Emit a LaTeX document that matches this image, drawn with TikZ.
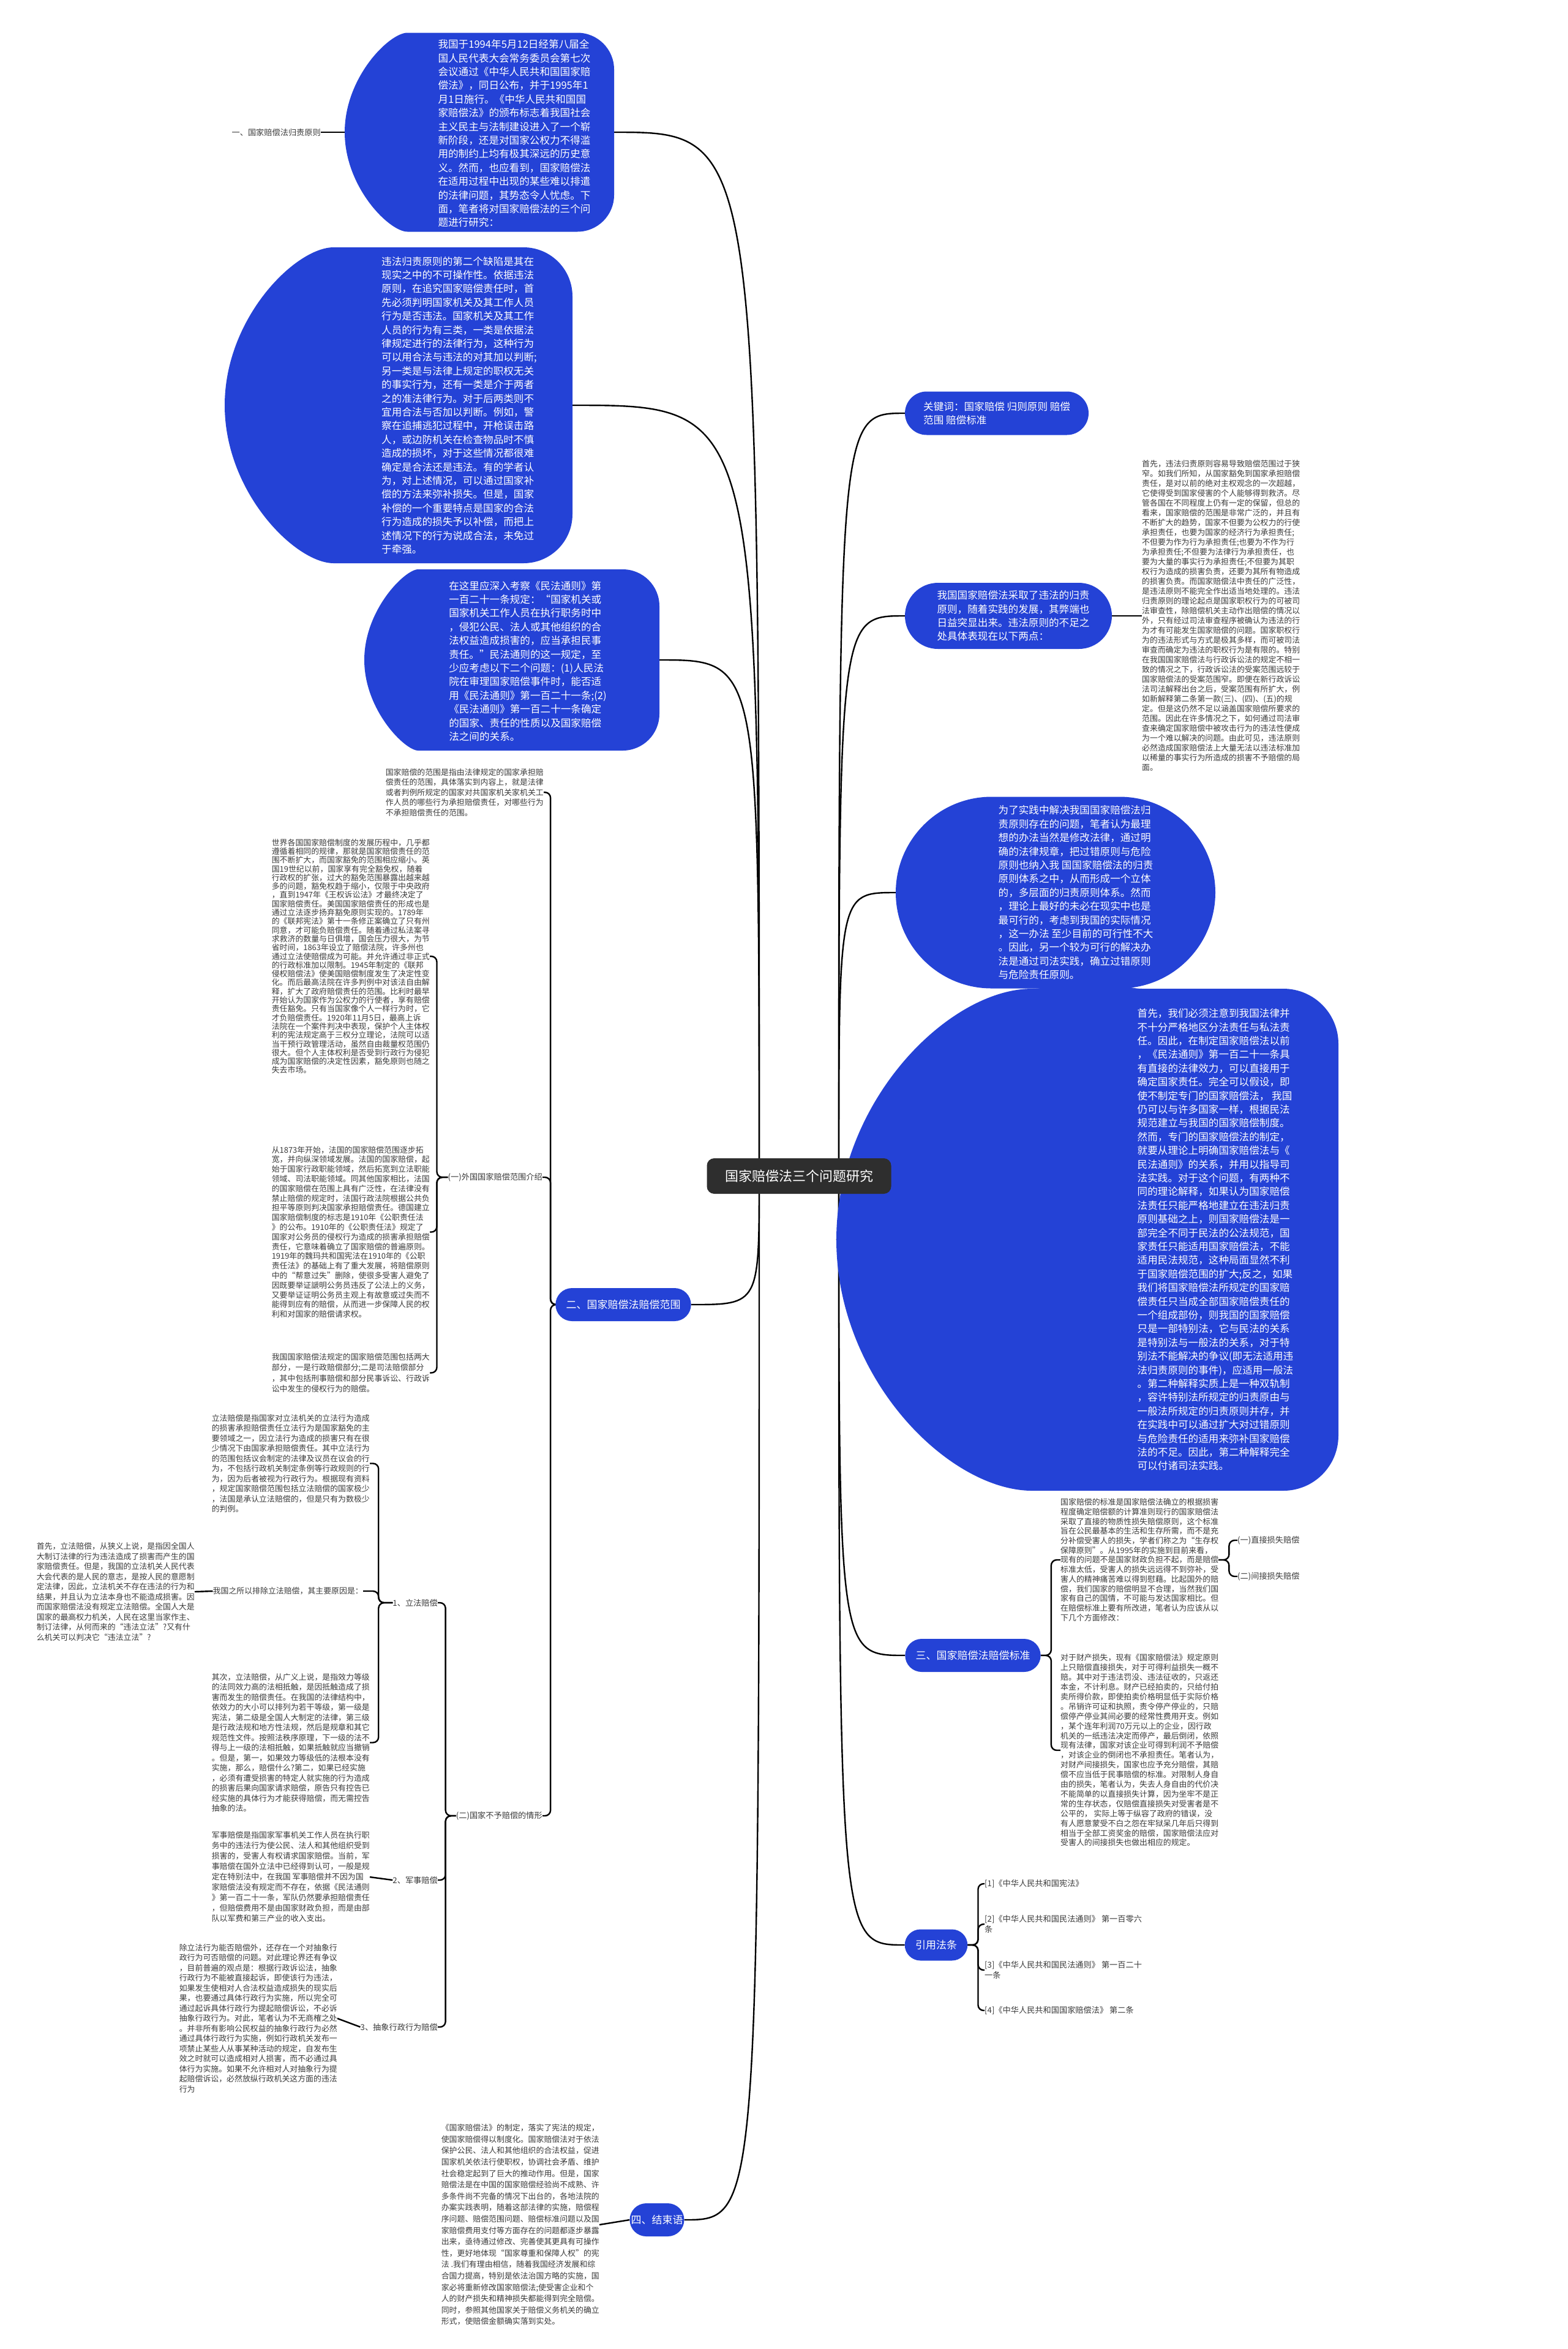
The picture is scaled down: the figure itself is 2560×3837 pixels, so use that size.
\documentclass[tikz,border=0pt]{standalone}
\usepackage{fontspec}
\setmainfont{Noto Sans CJK SC}
\usetikzlibrary{shapes.misc, backgrounds, calc}
\definecolor{cblue}{HTML}{2442D6}
\definecolor{croot}{HTML}{2E2E2E}
\definecolor{cgrey}{HTML}{3A3A3A}
\tikzset{
  every picture/.style={x=1pt, y=-1pt},
  blob/.style={rounded rectangle, fill=cblue, inner sep=0pt},
  flatblob/.style={blob, rounded rectangle east arc=none, rounded corners=#1},
  flatblob/.default=60pt,
  blobtext/.style={text=white, align=left, inner sep=0pt, font=\fontsize{16.6}{22.4}\selectfont},
  topic/.style={rounded rectangle, fill=cblue, text=white, inner xsep=16pt, minimum height=54pt, font=\fontsize{17}{20}\selectfont},
  root/.style={fill=croot, text=white, rounded corners=12pt, minimum width=301pt, minimum height=58pt, font=\fontsize{22}{26}\selectfont},
  note/.style={text=cgrey, align=left, inner sep=0pt, font=\fontsize{12.9}{16.5}\selectfont},
  leaf/.style={text=cgrey, align=left, inner sep=0pt, font=\fontsize{13.2}{17}\selectfont},
  conn/.style={draw=black, line width=2.4pt},
  bracket/.style={conn, rounded corners=9pt},
}
\begin{document}
\begin{tikzpicture}
\useasboundingbox (0,0) rectangle (2560,3837);

% blob shapes
\node[flatblob, minimum width=440pt, minimum height=325pt] (intro) at (783,216) {};
\node[flatblob=80pt, minimum width=568pt, minimum height=516pt] (flaw) at (651,662) {};
\node[flatblob, minimum width=482pt, minimum height=296pt] (civil) at (836,1078) {};
\node[blob, minimum width=300pt, minimum height=71pt] (kw) at (1628,675) {};
\node[blob, minimum width=338pt, minimum height=108pt] (vio) at (1647,1006) {};
\node[flatblob=90pt, minimum width=715pt, minimum height=820pt] (big) at (1776,2025) {};
\node[blob, minimum width=522pt, minimum height=313pt] (fix) at (1724,1458) {};

\node[root] (root) at (1305,1921) {国家赔偿法三个问题研究};
\coordinate (rootl) at (1240,1921);
\coordinate (rootr) at (1370,1921);

% left side, first part
\node[blobtext] (introtxt) at (840,218) {我国于1994年5月12日经第八届全\\国人民代表大会常务委员会第七次\\会议通过《中华人民共和国国家赔\\偿法》，同日公布，并于1995年1\\月1日施行。《中华人民共和国国\\家赔偿法》的颁布标志着我国社会\\主义民主与法制建设进入了一个崭\\新阶段，还是对国家公权力不得滥\\用的制约上均有极其深远的历史意\\义。然而，也应看到，国家赔偿法\\在适用过程中出现的某些难以排遣\\的法律问题，其势态令人忧虑。下\\面，笔者将对国家赔偿法的三个问\\题进行研究：};
\node[leaf, anchor=east] (rule) at (524,216) {一、国家赔偿法归责原则};

\node[blobtext] (flawtxt) at (750,662) {违法归责原则的第二个缺陷是其在\\现实之中的不可操作性。依据违法\\原则，在追究国家赔偿责任时，首\\先必须判明国家机关及其工作人员\\行为是否违法。国家机关及其工作\\人员的行为有三类，一类是依据法\\律规定进行的法律行为，这种行为\\可以用合法与违法的对其加以判断;\\另一类是与法律上规定的职权无关\\的事实行为，还有一类是介于两者\\之的准法律行为。对于后两类则不\\宜用合法与否加以判断。例如，警\\察在追捕逃犯过程中，开枪误击路\\人，或边防机关在检查物品时不慎\\造成的损坏，对于这些情况都很难\\确定是合法还是违法。有的学者认\\为，对上述情况，可以通过国家补\\偿的方法来弥补损失。但是，国家\\补偿的一个重要特点是国家的合法\\行为造成的损失予以补偿，而把上\\述情况下的行为说成合法，未免过\\于牵强。};

\node[blobtext] (civiltxt) at (862,1080) {在这里应深入考察《民法通则》第\\一百二十一条规定：“国家机关或\\国家机关工作人员在执行职务时中\\，侵犯公民、法人或其他组织的合\\法权益造成损害的，应当承担民事\\责任。”民法通则的这一规定，至\\少应考虑以下二个问题：(1)人民法\\院在审理国家赔偿事件时，能否适\\用《民法通则》第一百二十一条;(2)\\《民法通则》第一百二十一条确定\\的国家、责任的性质以及国家赔偿\\法之间的关系。};

% right side, first part
\node[blobtext, anchor=west] (kwtxt) at (1508,675) {关键词：国家赔偿 归则原则 赔偿\\范围 赔偿标准};

\node[blobtext] (viotxt) at (1655,1006) {我国国家赔偿法采取了违法的归责\\原则，随着实践的发展，其弊端也\\日益突显出来。违法原则的不足之\\处具体表现在以下两点：};
\node[note, anchor=west, font=\fontsize{12.9}{16}\selectfont] (violong) at (1865,1006) {首先，违法归责原则容易导致赔偿范围过于狭\\窄。如我们所知，从国家豁免到国家承担赔偿\\责任，是对以前的绝对主权观念的一次超越，\\它使得受到国家侵害的个人能够得到救济。尽\\管各国在不同程度上仍有一定的保留，但总的\\看来，国家赔偿的范围是非常广泛的，并且有\\不断扩大的趋势，国家不但要为公权力的行使\\承担责任，也要为国家的经济行为承担责任;\\不但要为作为行为承担责任;也要为不作为行\\为承担责任;不但要为法律行为承担责任，也\\要为大量的事实行为承担责任;不但要为其职\\权行为造成的损害负责，还要为其所有物造成\\的损害负责。而国家赔偿法中责任的广泛性，\\是违法原则不能完全作出适当地处理的。违法\\归责原则的理论起点是国家职权行为的可被司\\法审查性，除赔偿机关主动作出赔偿的情况以\\外，只有经过司法审查程序被确认为违法的行\\为才有可能发生国家赔偿的问题。国家职权行\\为的违法形式与方式是极其多样，而可被司法\\审查而确定为违法的职权行为是有限的。特别\\在我国国家赔偿法与行政诉讼法的规定不相一\\致的情况之下，行政诉讼法的受案范围远较于\\国家赔偿法的受案范围窄。即便在新行政诉讼\\法司法解释出台之后，受案范围有所扩大，例\\如新解释第二条第一款(三)、(四)、(五)的规\\定。但是这仍然不足以涵盖国家赔偿所要求的\\范围。因此在许多情况之下，如何通过司法审\\查来确定国家赔偿中被攻击行为的违法性便成\\为一个难以解决的问题。由此可见，违法原则\\必然造成国家赔偿法上大量无法以违法标准加\\以稀量的事实行为所造成的损害不予赔偿的局\\面。};

\node[blobtext] (fixtxt) at (1757,1458) {为了实践中解决我国国家赔偿法归\\责原则存在的问题，笔者认为最理\\想的办法当然是修改法律，通过明\\确的法律规章，把过错原则与危险\\原则也纳入我 国国家赔偿法的归责\\原则体系之中，从而形成一个立体\\的，多层面的归责原则体系。然而\\，理论上最好的未必在现实中也是\\最可行的，考虑到我国的实际情况\\，这一办法 至少目前的可行性不大\\。因此，另一个较为可行的解决办\\法是通过司法实践，确立过错原则\\与危险责任原则。};

\node[blobtext] (bigtxt) at (1985,2025) {首先，我们必须注意到我国法律并\\不十分严格地区分法责任与私法责\\任。因此，在制定国家赔偿法以前\\，《民法通则》第一百二十一条具\\有直接的法律效力，可以直接用于\\确定国家责任。完全可以假设，即\\使不制定专门的国家赔偿法， 我国\\仍可以与许多国家一样，根据民法\\规范建立与我国的国家赔偿制度。\\然而，专门的国家赔偿法的制定，\\就要从理论上明确国家赔偿法与《\\民法通则》的关系，并用以指导司\\法实践。对于这个问题，有两种不\\同的理论解释，如果认为国家赔偿\\法责任只能严格地建立在违法归责\\原则基础之上，则国家赔偿法是一\\部完全不同于民法的公法规范，国\\家责任只能适用国家赔偿法，不能\\适用民法规范，这种局面显然不利\\于国家赔偿范围的扩大;反之，如果\\我们将国家赔偿法所规定的国家赔\\偿责任只当成全部国家赔偿责任的\\一个组成部份，则我国的国家赔偿\\只是一部特别法，它与民法的关系\\是特别法与一般法的关系，对于特\\别法不能解决的争议(即无法适用违\\法归责原则的事件)，应适用一般法\\。第二种解释实质上是一种双轨制\\，容许特别法所规定的归责原由与\\一般法所规定的归责原则并存，并\\在实践中可以通过扩大对过错原则\\与危险责任的适用来弥补国家赔偿\\法的不足。因此，第二种解释完全\\可以付诸司法实践。};

% 二、赔偿范围
\node[topic, minimum width=220pt] (range) at (1018,2131) {二、国家赔偿法赔偿范围};
\node[note, anchor=north east] (rangedef) at (888,1255) {国家赔偿的范围是指由法律规定的国家承担赔\\偿责任的范围，具体落实到内容上，就是法律\\或者判例所规定的国家对共国家机关家机关工\\作人员的哪些行为承担赔偿责任，对哪些行为\\不承担赔偿责任的范围。};
\node[leaf, anchor=east] (foreign) at (886,1923) {(一)外国国家赔偿范围介绍};
\node[leaf, anchor=east] (exempt) at (886,2966) {(二)国家不予赔偿的情形};

\node[note, anchor=north east, font=\fontsize{12.9}{14.3}\selectfont] (world) at (702,1370) {世界各国国家赔偿制度的发展历程中，几乎都\\遵循着相同的规律，那就是国家赔偿责任的范\\围不断扩大，而国家豁免的范围相应缩小。英\\国19世纪以前，国家享有完全豁免权，随着\\行政权的扩张，过大的豁免范围暴露出越来越\\多的问题，豁免权趋于缩小，仅限于中央政府\\，直到1947年《王权诉讼法》才最终决定了\\国家赔偿责任。美国国家赔偿责任的形成也是\\通过立法逐步扬弃豁免原则实现的。1789年\\的《联邦宪法》第十一条修正案确立了只有州\\同意，才可能负赔偿责任。随着通过私法案寻\\求救济的数量与日俱增，国会压力很大，为节\\省时间，1863年设立了赔偿法院，许多州也\\通过立法使赔偿成为可能。并允许通过非正式\\的行政标准加以限制。1945年制定的《联邦\\侵权赔偿法》使美国赔偿制度发生了决定性变\\化。而后最高法院在许多判例中对该法自由解\\释，扩大了政府赔偿责任的范围。比利时最早\\开始认为国家作为公权力的行使者，享有赔偿\\责任豁免。只有当国家像个人一样行为时，它\\才负赔偿责任。1920年11月5日，最高上诉\\法院在一个案件判决中表现，保护个人主体权\\利的宪法规定高于三权分立理论，法院可以适\\当干预行政管理活动，虽然自由裁量权范围仍\\很大。但个人主体权利是否受到行政行为侵犯\\成为国家赔偿的决定性因素，豁免原则也随之\\失去市场。};
\node[note, anchor=north east, font=\fontsize{12.9}{15.8}\selectfont] (france) at (702,1872) {从1873年开始，法国的国家赔偿范围逐步拓\\宽，并向纵深领域发展。法国的国家赔偿，起\\始于国家行政职能领域，然后拓宽到立法职能\\领域、司法职能领域。同其他国家相比，法国\\的国家赔偿在范围上具有广泛性，在法律没有\\禁止赔偿的规定时，法国行政法院根据公共负\\担平等原则判决国家承担赔偿责任。德国建立\\国家赔偿制度的标志是1910年《公职责任法\\》的公布。1910年的《公职责任法》规定了\\国家对公务员的侵权行为造成的损害承担赔偿\\责任，它意味着确立了国家赔偿的普遍原则。\\1919年的魏玛共和国宪法在1910年的《公职\\责任法》的基础上有了重大发展，将赔偿原则\\中的“帮意过失”删除，使很多受害人避免了\\因既要举证謕明公务员违反了公法上的义务，\\又要举证证明公务员主观上有故意或过失而不\\能得到应有的赔偿，从而进一步保障人民的权\\利和对国家的赔偿请求权。};
\node[note, anchor=north east, font=\fontsize{12.9}{17.5}\selectfont] (ours) at (702,2210) {我国国家赔偿法规定的国家赔偿范围包括两大\\部分，一是行政赔偿部分;二是司法赔偿部分\\，其中包括刑事赔偿和部分民事诉讼、行政诉\\讼中发生的侵权行为的赔偿。};

\node[leaf, anchor=east] (leg) at (715,2618) {1、立法赔偿};
\node[leaf, anchor=east] (mil) at (715,3071) {2、军事赔偿};
\node[leaf, anchor=east] (abs) at (715,3311) {3、抽象行政行为赔偿};

\node[note, anchor=north east] (legdef) at (604,2310) {立法赔偿是指国家对立法机关的立法行为造成\\的损害承担赔偿责任立法行为是国家豁免的主\\要领域之一，因立法行为造成的损害只有在很\\少情况下由国家承担赔偿责任。其中立法行为\\的范围包括议会制定的法律及议员在议会的行\\为，不包括行政机关制定条例等行政规则的行\\为，因为后者被视为行政行为。根据现有资料\\，规定国家赔偿范围包括立法赔偿的国家极少\\，法国是承认立法赔偿的，但是只有为数极少\\的判例。};
\node[leaf, anchor=east, font=\fontsize{12.9}{16}\selectfont] (legwhy) at (593,2599) {我国之所以排除立法赔偿，其主要原因是：};
\node[note, anchor=east] (legnarrow) at (318,2600) {首先，立法赔偿，从狭义上说，是指因全国人\\大制订法律的行为违法造成了损害而产生的国\\家赔偿责任。但是，我国的立法机关人民代表\\大会代表的是人民的意志，是按人民的意愿制\\定法律，因此，立法机关不存在违法的行为和\\结果，并且认为立法本身也不能造成损害。因\\而国家赔偿法没有规定立法赔偿。全国人大是\\国家的最高权力机关，人民在这里当家作主、\\制订法律，从何而来的“违法立法”?又有什\\么机关可以判决它“违法立法”?};
\node[note, anchor=north east] (legwide) at (604,2733) {其次，立法赔偿，从广义上说，是指效力等级\\的法同效力高的法相抵触，是因抵触造成了损\\害而发生的赔偿责任。在我国的法律结构中，\\依效力的大小可以排列为若干等级，第一级是\\宪法，第二级是全国人大制定的法律，第三级\\是行政法规和地方性法规，然后是规章和其它\\规范性文件。按照法秩序原理，下一级的法不\\得与上一级的法相抵触，如果抵触就应当撤销\\。但是，第一，如果效力等级低的法根本没有\\实施，那么，赔偿什么?第二，如果已经实施\\，必须有遭受损害的特定人就实施的行为造成\\的损害后果向国家请求赔偿，原告只有控告已\\经实施的具体行为才能获得赔偿，而无需控告\\抽象的法。};
\node[note, anchor=east, font=\fontsize{12.9}{17}\selectfont] (mildef) at (604,3066) {军事赔偿是指国家军事机关工作人员在执行职\\务中的违法行为使公民、法人和其他组织受到\\损害的，受害人有权请求国家赔偿。当前，军\\事赔偿在国外立法中已经得到认可，一般是规\\定在特别法中，在我国 军事赔偿并不因为国\\家赔偿法没有规定而不存在，依据《民法通则\\》第一百二十一条，军队仍然要承担赔偿责任\\，但赔偿费用不是由国家财政负担，而是由部\\队以军费和第三产业的收入支出。};
\node[note, anchor=east] (absdef) at (551,3297) {除立法行为能否赔偿外，还存在一个对抽象行\\政行为可否赔偿的问题。对此理论界还有争议\\，目前普遍的观点是：根据行政诉讼法，抽象\\行政行为不能被直接起诉，即使该行为违法，\\如果发生使相对人合法权益造成损失的现实后\\果，也要通过具体行政行为实施，所以完全可\\通过起诉具体行政行为提起赔偿诉讼，不必诉\\抽象行政行为。对此，笔者认为不无商榷之处\\。并非所有影响公民权益的抽象行政行为必然\\通过具体行政行为实施，例如行政机关发布一\\项禁止某些人从事某种活动的规定，自发布生\\效之时就可以造成相对人损害，而不必通过具\\体行为实施。如果不允许相对人对抽象行为提\\起赔偿诉讼，必然放纵行政机关这方面的违法\\行为};

% 三、赔偿标准
\node[topic, minimum width=215pt] (std) at (1589,2704) {三、国家赔偿法赔偿标准};
\node[note, anchor=west, font=\fontsize{12.9}{15.7}\selectfont] (stdtxt) at (1732,2548) {国家赔偿的标准是国家赔偿法确立的根据损害\\程度确定赔偿额的计算准则现行的国家赔偿法\\采取了直接的物质性损失赔偿原则，这个标准\\旨在公民最基本的生活和生存所需，而不是充\\分补偿受害人的损失，学者们称之为“生存权\\保障原则”。从1995年的实施到目前来看，\\现有的问题不是国家财政负担不起，而是赔偿\\标准太低，受害人的损失远远得不到弥补，受\\害人的精神痛苦难以得到慰藉。比起国外的赔\\偿，我们国家的赔偿明显不合理，当然我们国\\家有自己的国情，不可能与发达国家相比。但\\在赔偿标准上要有所改进，笔者认为应该从以\\下几个方面修改：};
\node[note, anchor=west, font=\fontsize{12.9}{15.9}\selectfont] (stdmore) at (1732,2859) {对于财产损失，现有《国家赔偿法》规定原则\\上只赔偿直接损失，对于可得利益损失一概不\\赔。其中对于违法罚没、违法征收的，只返还\\本金，不计利息。财产已经拍卖的，只给付拍\\卖所得价款，即使拍卖价格明显低于实际价格\\。吊销许可证和执照，责令停产停业的，只赔\\偿停产停业其间必要的经常性费用开支。例如\\，某个连年利润70万元以上的企业，因行政\\机关的一纸违法决定而停产，最后倒闭，依照\\现有法律，国家对该企业可得到利润不予赔偿\\，对该企业的倒闭也不承担责任。笔者认为，\\对财产间接损失，国家也应予充分赔偿，其赔\\偿不应当低于民事赔偿的标准。对限制人身自\\由的损失，笔者认为，失去人身自由的代价决\\不能简单的以直接损失计算，因为坐牢不是正\\常的生存状态，仅赔偿直接损失对受害者是不\\公平的， 实际上等于纵容了政府的错误，没\\有人愿意蒙受不白之怨在牢狱呆几年后只得到\\相当于全部工资奖金的赔偿，国家赔偿法应对\\受害人的间接损失也做出相应的规定。};
\node[leaf, anchor=west] (direct) at (2021,2516) {(一)直接损失赔偿};
\node[leaf, anchor=west] (indirect) at (2021,2575) {(二)间接损失赔偿};

% 引用法条
\node[topic, minimum width=98pt, minimum height=51pt] (cite) at (1529,3177) {引用法条};
\node[leaf, anchor=west] (cite1) at (1608,3077) {[1]《中华人民共和国宪法》};
\node[leaf, anchor=west] (cite2) at (1608,3143) {[2]《中华人民共和国民法通则》 第一百零六\\条};
\node[leaf, anchor=west] (cite3) at (1608,3218) {[3]《中华人民共和国民法通则》 第一百二十\\一条};
\node[leaf, anchor=west] (cite4) at (1608,3284) {[4]《中华人民共和国国家赔偿法》 第二条};

% 四、结束语
\node[topic, minimum width=121pt] (concl) at (1073,3626) {四、结束语};
\node[note, anchor=east, font=\fontsize{12.9}{18.6}\selectfont] (concltxt) at (979,3634) {《国家赔偿法》的制定，落实了宪法的规定，\\使国家赔偿得以制度化。国家赔偿法对于依法\\保护公民、法人和其他组织的合法权益，促进\\国家机关依法行使职权，协调社会矛盾、维护\\社会稳定起到了巨大的推动作用。但是，国家\\赔偿法是在中国的国家赔偿经验尚不成熟、许\\多条件尚不完备的情况下出台的，各地法院的\\办案实践表明，随着这部法律的实施，赔偿程\\序问题、赔偿范围问题、赔偿标准问题以及国\\家赔偿费用支付等方面存在的问题都逐步暴露\\出来，亟待通过修改、完善使其更具有可操作\\性，更好地体现“国家尊重和保障人权”的宪\\法 .我们有理由相信，随着我国经济发展和综\\合国力提高，特别是依法治国方略的实施，国\\家必将重新修改国家赔偿法;使受害企业和个\\人的财产损失和精神损失都能得到完全赔偿。\\同时，参照其他国家关于赔偿义务机关的确立\\形式，使赔偿金额确实落到实处。};

\begin{scope}[on background layer]
  % from the root
  \foreach \t in {kw,vio,fix,big,std,cite}
    \draw[conn] (rootr) .. controls (rootr |- \t.west) .. (\t.west);
  \foreach \t in {intro,flaw,civil,range,concl}
    \draw[conn] (rootl) .. controls (rootl |- \t.east) .. (\t.east);
  % straight links
  \draw[conn] (intro.west) -- (rule.east);
  \draw[conn] (vio.east) -- (violong.west);
  \draw[conn] (legwhy.west) -- (legnarrow.east);
  \draw[conn] (mil.west) -- (mildef.east);
  \draw[conn] (abs.west) -- (absdef.east);
  \draw[conn] (concl.west) -- (concltxt.east);
  % brackets
  \foreach \t in {rangedef,foreign,exempt}
    \draw[bracket] (range.west) -- ++(-8,0) |- (\t.east);
  \foreach \t in {world,france,ours}
    \draw[bracket] (foreign.west) -- ++(-18,0) |- (\t.east);
  \foreach \t in {leg,mil,abs}
    \draw[bracket] (exempt.west) -- ++(-17,0) |- (\t.east);
  \foreach \t in {legdef,legwhy,legwide}
    \draw[bracket] (leg.west) -- ++(-23,0) |- (\t.east);
  \foreach \t in {stdtxt,stdmore}
    \draw[bracket] (std.east) -- ++(17,0) |- (\t.west);
  \foreach \t in {direct,indirect}
    \draw[bracket] (stdtxt.east) -- ++(17,0) |- (\t.west);
  \foreach \t in {cite1,cite2,cite3,cite4}
    \draw[bracket] (cite.east) -- ++(17,0) |- (\t.west);
\end{scope}
\end{tikzpicture}
\end{document}
